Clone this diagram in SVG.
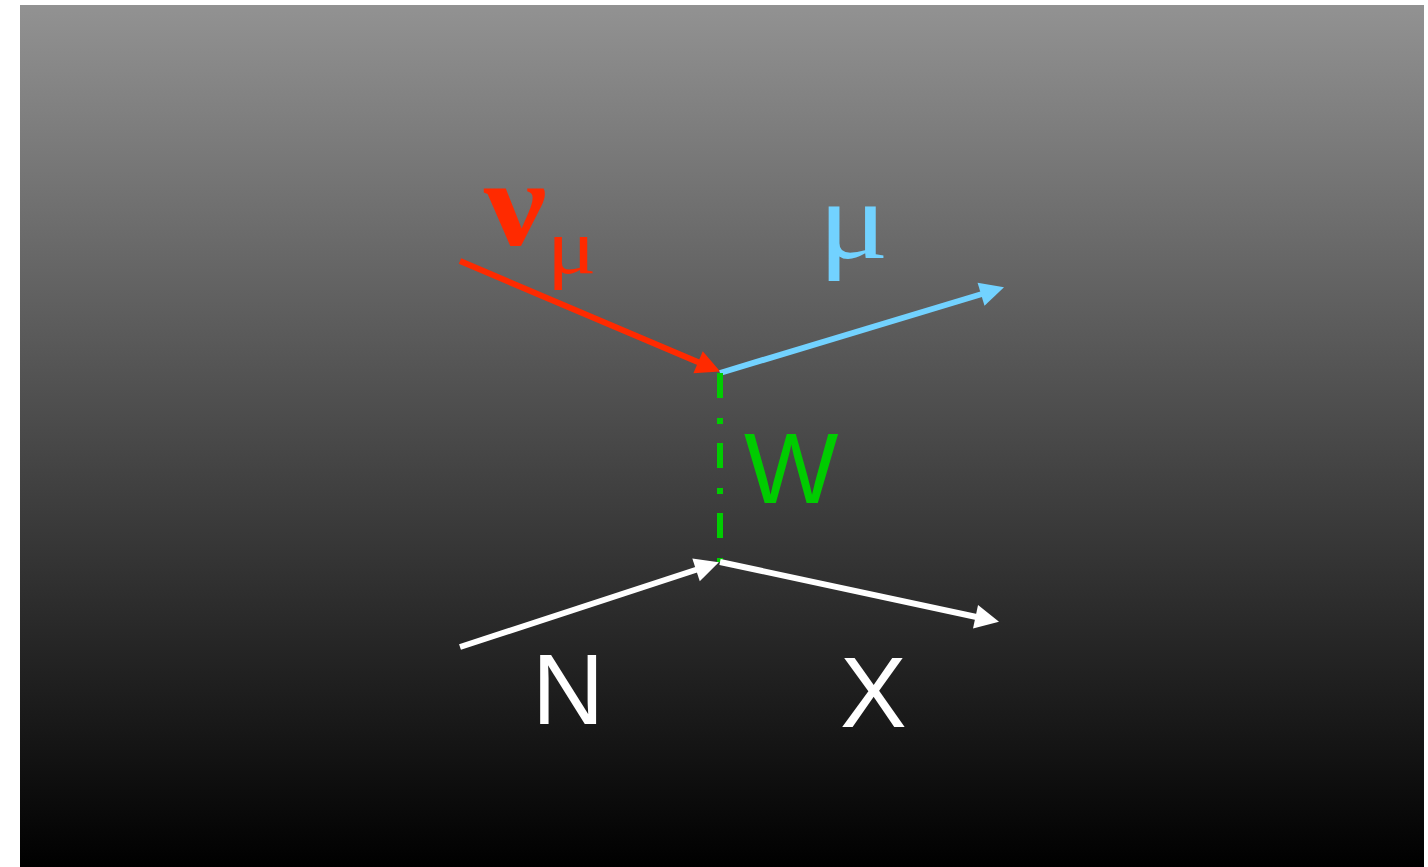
<svg xmlns="http://www.w3.org/2000/svg" width="1428" height="867" viewBox="0 0 1428 867">
<defs>
<linearGradient id="bg" x1="0" y1="0" x2="0" y2="1">
<stop offset="0" stop-color="#929292"/>
<stop offset="1" stop-color="#000000"/>
</linearGradient>
<marker id="ar" markerUnits="userSpaceOnUse" markerWidth="26" markerHeight="26" viewBox="0 0 26 26" refX="1" refY="12" orient="auto" overflow="visible"><path d="M0,0 L24,12 L0,24 z" fill="#ff2a00"/></marker>
<marker id="ab" markerUnits="userSpaceOnUse" markerWidth="26" markerHeight="26" viewBox="0 0 26 26" refX="1" refY="12" orient="auto" overflow="visible"><path d="M0,0 L24,12 L0,24 z" fill="#72d2ff"/></marker>
<marker id="aw" markerUnits="userSpaceOnUse" markerWidth="26" markerHeight="26" viewBox="0 0 26 26" refX="1" refY="12" orient="auto" overflow="visible"><path d="M0,0 L24,12 L0,24 z" fill="#ffffff"/></marker>
</defs>
<style>
.ln{fill:none;stroke-width:6}
.sans{font-family:"Liberation Sans",Arial,sans-serif;font-size:100px}
.serif{font-family:"Liberation Serif","Times New Roman",serif}
</style>
<rect x="20" y="5" width="1404" height="862" fill="url(#bg)"/>
<g id="connectors">
<line class="ln" x1="460" y1="261" x2="699" y2="362.6" stroke="#ff2a00" marker-end="url(#ar)"/>
<line class="ln" x1="720" y1="373" x2="982" y2="294" stroke="#72d2ff" marker-end="url(#ab)"/>
<line class="ln" x1="720" y1="373" x2="720" y2="562" stroke="#00cc00" stroke-dasharray="25 20 6 19"/>
<line class="ln" x1="460" y1="647" x2="697" y2="569.5" stroke="#ffffff" marker-end="url(#aw)"/>
<line class="ln" x1="720" y1="562" x2="976.5" y2="617" stroke="#ffffff" marker-end="url(#aw)"/>
</g>
<g id="nu-mu">
<text class="serif" transform="translate(484,245) scale(1.15,1)" font-size="122" font-weight="bold" fill="#ff2a00">ν</text>
<text class="serif" transform="translate(547,273) scale(1.18,1)" font-size="78" fill="#ff2a00">μ</text>
</g>
<g id="mu">
<text class="serif" transform="translate(818,258) scale(1.2,1)" font-size="110" fill="#72d2ff">μ</text>
</g>
<g id="W">
<text class="sans" x="744" y="503" fill="#00cc00">W</text>
</g>
<g id="N">
<text class="sans" x="532" y="724" fill="#ffffff">N</text>
</g>
<g id="X">
<text class="sans" x="840" y="727" fill="#ffffff">X</text>
</g>
</svg>
